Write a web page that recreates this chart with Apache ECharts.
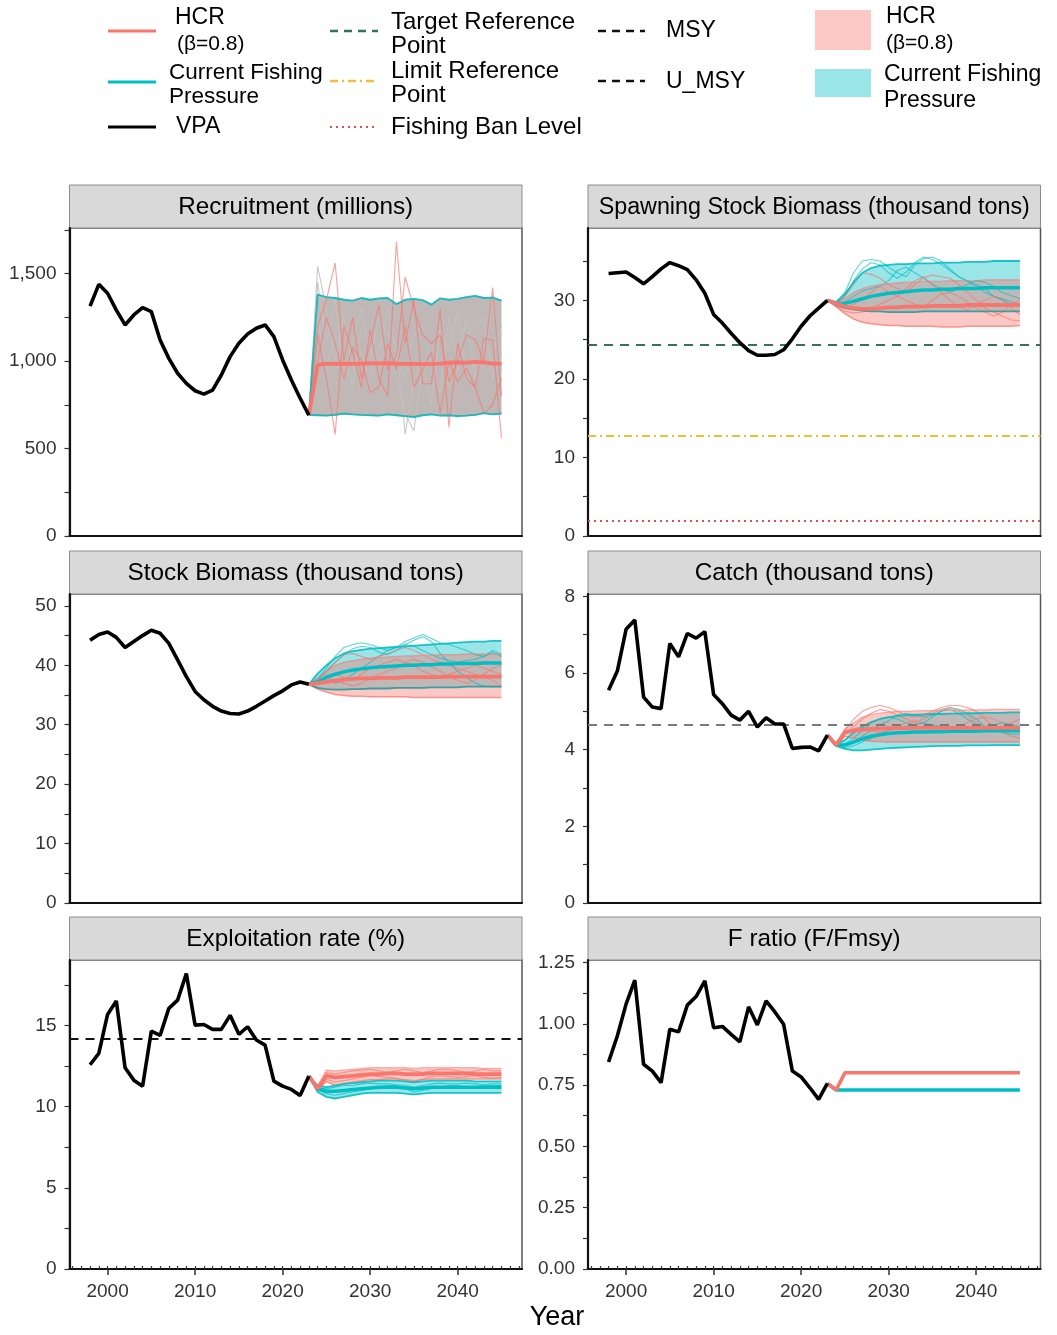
<!DOCTYPE html>
<html><head><meta charset="utf-8">
<script src="https://cdn.jsdelivr.net/npm/echarts@6/dist/echarts.min.js"></script>
<style>html,body{margin:0;padding:0;background:#fff}#c{width:1057px;height:1335px}</style>
</head><body><div id="c"></div><script>
// ---------------- DATA ----------------
const histYears = [1998,1999,2000,2001,2002,2003,2004,2005,2006,2007,2008,2009,2010,2011,2012,2013,2014,2015,2016,2017,2018,2019,2020,2021,2022,2023];
const projYears = [2023,2024,2025,2026,2027,2028,2029,2030,2031,2032,2033,2034,2035,2036,2037,2038,2039,2040,2041,2042,2043,2044,2045];
const xTickLabels = [2000,2010,2020,2030,2040];

// Recruitment (millions)
const recVPA = [1314,1438,1387,1291,1206,1263,1305,1282,1120,1015,930,872,830,811,834,920,1025,1101,1154,1187,1206,1139,1006,891,787,691];
const recHi = [691,1380,1365,1360,1350,1345,1360,1350,1358,1360,1325,1350,1355,1348,1322,1358,1350,1355,1365,1372,1360,1362,1345];
const recLo = [691,690,688,692,700,695,692,690,688,695,690,685,680,690,695,688,690,685,688,692,702,695,700];
const recMedHCR = [691,978,985,984,985,983,985,988,987,988,985,983,984,982,983,985,990,992,990,995,992,985,985];
const recTraceHCR1 = [691,1200,1350,1560,1000,1250,900,1100,1320,950,1030,1480,1300,1150,1100,1150,880,1000,1150,1120,1000,1420,800];
const recTraceHCR2 = [691,1150,900,580,1200,1050,850,1180,900,800,1680,1100,1350,870,870,1300,620,1100,900,850,700,750,900];
const recTraceHCR3 = [691,1000,1250,1100,900,1080,1000,820,850,1100,950,1200,850,950,1050,700,1000,880,960,850,1130,1120,560];
const recTraceCur1 = [691,1540,1300,1000,1250,950,1050,900,1100,1000,920,700,600,1000,930,1200,850,950,1250,900,1100,1050,1200];
const recTraceCur2 = [691,1450,1100,1350,900,1100,1300,1000,1250,1150,1100,580,900,1000,750,1180,1050,1300,880,1000,950,1380,950];
const recTraceCur3 = [691,1250,950,1150,1050,850,1200,1080,960,1300,1050,900,1150,1200,980,820,1250,1000,1150,1200,1250,900,1050];

// Spawning stock biomass (thousand tons)
const ssbVPA = [33.4,33.5,33.6,32.9,32.1,33.0,34.0,34.8,34.4,33.9,32.6,30.9,28.2,27.1,25.8,24.6,23.6,23.0,23.0,23.1,23.7,25.1,26.7,28.0,29.0,30.0];
const ssbCurHi = [30.0,29.8,30.8,32.3,33.5,34.1,34.4,34.5,34.6,34.6,34.7,34.7,34.7,34.8,34.8,34.8,34.9,34.9,34.9,35.0,35.0,35.0,35.0];
const ssbCurLo = [30.0,29.4,29.0,28.8,28.7,28.6,28.6,28.5,28.5,28.5,28.5,28.6,28.6,28.6,28.6,28.6,28.6,28.6,28.6,28.6,28.6,28.6,28.6];
const ssbHCRHi = [30.0,29.8,30.2,31.0,31.5,31.8,32.0,32.1,32.2,32.3,32.3,32.4,32.4,32.4,32.5,32.5,32.5,32.5,32.6,32.6,32.6,32.6,32.6];
const ssbHCRLo = [30.0,29.2,28.3,27.6,27.2,27.0,26.9,26.8,26.8,26.7,26.7,26.7,26.7,26.6,26.6,26.6,26.7,26.7,26.7,26.7,26.7,26.7,26.8];
const ssbCurMed = [30.0,29.6,29.6,29.9,30.2,30.5,30.7,30.9,31.0,31.1,31.2,31.3,31.3,31.4,31.4,31.5,31.5,31.5,31.6,31.6,31.6,31.6,31.6];
const ssbHCRMed = [30.0,29.6,29.2,29.0,28.9,28.9,29.0,29.1,29.1,29.2,29.2,29.2,29.3,29.3,29.3,29.3,29.4,29.4,29.4,29.4,29.4,29.4,29.4];
const ssbTraceCur1 = [30.0,29.6,31.0,33.5,35.0,35.2,35.0,34.2,33.5,33.0,34.5,35.3,35.5,35.0,34.0,33.0,32.5,32.0,31.5,30.5,30.0,29.5,29.5];
const ssbTraceCur2 = [30.0,29.5,30.5,32.5,34.0,34.8,34.5,33.5,32.8,33.6,34.8,35.5,35.2,34.6,33.8,33.0,32.4,31.8,31.0,30.5,30.2,29.8,29.4];
const ssbTraceCur3 = [30.0,29.4,29.8,30.5,31.2,31.5,31.8,32.5,33.8,34.2,33.5,32.8,32.0,31.5,31.0,31.5,32.0,32.5,32.3,31.8,31.0,30.6,30.2];
const ssbTraceHCR1 = [30.0,29.6,30.5,32.0,33.5,33.3,32.8,32.0,31.5,31.0,32.0,32.9,33.2,33.0,32.8,32.0,31.0,30.0,29.0,28.5,28.0,27.5,27.4];
const ssbTraceHCR2 = [30.0,29.3,29.0,29.5,30.2,31.0,31.8,31.0,30.5,31.5,32.5,33.0,32.0,31.0,30.0,29.2,28.8,29.5,30.0,30.5,30.0,29.0,28.2];
const ssbTraceHCR3 = [30.0,29.2,28.6,28.4,28.5,29.0,29.5,30.0,30.5,30.0,29.5,29.2,30.0,30.8,31.0,30.5,29.8,29.0,28.5,28.0,28.5,29.5,30.0];
const ssbTarget = 24.3, ssbLimit = 12.8, ssbBan = 2.0;

// Stock biomass (thousand tons)
const sbVPA = [44.2,45.2,45.6,44.7,43.0,44.0,45.0,45.9,45.4,43.7,40.9,38.1,35.6,34.2,33.1,32.3,31.9,31.8,32.3,33.1,34.0,34.9,35.7,36.7,37.2,36.8];
const sbCurHi = [36.8,38.6,40.0,41.2,42.0,42.4,42.6,42.8,42.9,43.0,43.1,43.2,43.3,43.4,43.5,43.6,43.7,43.8,43.9,44.0,44.0,44.1,44.1];
const sbCurLo = [36.8,36.2,36.0,35.9,35.9,36.0,36.0,36.1,36.1,36.1,36.2,36.2,36.2,36.2,36.3,36.3,36.3,36.3,36.4,36.4,36.4,36.4,36.4];
const sbHCRHi = [36.8,37.8,39.0,40.0,40.5,40.8,41.0,41.2,41.3,41.4,41.5,41.6,41.6,41.7,41.7,41.8,41.8,41.8,41.9,41.9,41.9,41.9,41.9];
const sbHCRLo = [36.8,36.0,35.5,35.1,34.9,34.8,34.8,34.7,34.7,34.7,34.7,34.7,34.6,34.6,34.6,34.6,34.6,34.6,34.6,34.6,34.6,34.6,34.6];
const sbCurMed = [36.8,37.2,38.0,38.5,38.9,39.2,39.4,39.6,39.7,39.8,39.9,40.0,40.0,40.1,40.1,40.2,40.2,40.3,40.3,40.3,40.4,40.4,40.4];
const sbHCRMed = [36.8,37.0,37.2,37.4,37.6,37.7,37.8,37.8,37.9,37.9,37.9,38.0,38.0,38.0,38.0,38.0,38.1,38.1,38.1,38.1,38.1,38.1,38.1];
const sbTraceCur1 = [36.8,37.8,39.5,41.5,43.0,43.5,43.8,43.5,43.0,42.5,43.0,44.0,44.6,45.2,44.5,43.8,43.5,43.0,42.5,41.8,41.5,42.5,41.8];
const sbTraceCur2 = [36.8,37.5,39.0,40.5,41.8,42.8,43.2,43.0,42.2,41.8,42.5,43.5,44.2,44.8,44.0,42.0,40.5,39.0,38.0,37.0,36.5,36.4,36.4];
const sbTraceCur3 = [36.8,37.2,38.2,37.0,37.5,38.5,39.5,40.5,41.5,42.5,43.0,43.5,43.2,42.5,41.8,41.2,40.8,40.5,40.8,41.0,41.5,42.2,41.5];
const sbTraceHCR1 = [36.8,37.5,39.0,40.5,41.8,42.0,41.5,41.0,41.5,42.0,42.5,43.0,42.5,41.8,41.0,40.5,40.0,39.5,39.0,38.5,38.0,37.5,36.5];
const sbTraceHCR2 = [36.8,37.0,37.5,38.5,38.0,37.5,38.5,39.5,40.0,40.5,41.0,40.5,40.0,39.0,38.5,38.0,38.5,39.0,39.5,40.0,39.5,39.0,38.5];
const sbTraceHCR3 = [36.8,36.8,37.2,37.5,37.0,36.5,37.0,37.8,38.5,39.0,39.5,40.5,41.0,40.5,39.8,39.0,38.0,37.5,37.0,37.5,38.5,39.5,40.0];

// Catch (thousand tons)
const catchVPA = [5.55,6.05,7.14,7.38,5.37,5.11,5.07,6.77,6.42,7.03,6.91,7.08,5.44,5.20,4.90,4.77,5.00,4.59,4.83,4.67,4.67,4.03,4.06,4.07,3.97,4.38];
const catchHCRHi = [4.38,4.15,4.55,4.70,4.85,4.92,4.95,4.98,5.00,5.00,5.01,5.02,5.02,5.03,5.03,5.03,5.04,5.04,5.04,5.05,5.05,5.05,5.05];
const catchHCRLo = [4.38,4.10,4.35,4.30,4.25,4.22,4.21,4.20,4.20,4.20,4.20,4.20,4.20,4.20,4.20,4.20,4.20,4.20,4.20,4.20,4.20,4.20,4.20];
const catchHCRMed = [4.38,4.12,4.45,4.50,4.52,4.54,4.55,4.56,4.56,4.56,4.57,4.57,4.57,4.57,4.57,4.57,4.57,4.57,4.57,4.57,4.57,4.57,4.57];
const catchCurHi = [4.38,4.14,4.25,4.45,4.60,4.72,4.80,4.85,4.88,4.90,4.91,4.92,4.93,4.93,4.94,4.94,4.95,4.95,4.96,4.96,4.96,4.97,4.97];
const catchCurLo = [4.38,4.10,4.02,3.98,3.98,4.00,4.02,4.04,4.05,4.06,4.07,4.08,4.09,4.10,4.10,4.10,4.11,4.11,4.11,4.12,4.12,4.12,4.12];
const catchCurMed = [4.38,4.12,4.12,4.20,4.28,4.35,4.39,4.42,4.44,4.45,4.46,4.46,4.47,4.47,4.48,4.48,4.48,4.48,4.49,4.49,4.49,4.49,4.49];
const catchTraceHCR1 = [4.38,4.15,4.50,4.80,5.00,5.10,5.15,5.10,5.00,4.90,4.85,4.90,5.00,5.10,5.15,5.15,5.10,5.00,4.80,4.60,4.45,4.35,4.30];
const catchTraceHCR2 = [4.38,4.13,4.45,4.60,4.80,4.95,5.05,5.00,4.90,4.80,4.70,4.80,4.95,5.05,5.10,5.00,4.90,4.70,4.55,4.50,4.60,4.70,4.80];
const catchTraceHCR3 = [4.38,4.12,4.40,4.55,4.60,4.50,4.45,4.50,4.60,4.70,4.75,4.70,4.60,4.55,4.50,4.60,4.70,4.80,4.85,4.80,4.70,4.60,4.50];
const catchTraceCur1 = [4.38,4.12,4.15,4.30,4.50,4.70,4.80,4.85,4.80,4.70,4.65,4.70,4.85,5.00,5.10,5.05,4.95,4.80,4.60,4.50,4.45,4.40,4.40];
const catchTraceCur2 = [4.38,4.11,4.10,4.20,4.35,4.50,4.65,4.75,4.90,4.95,4.90,4.85,4.90,5.00,5.05,4.95,4.80,4.65,4.55,4.50,4.50,4.55,4.60];
const catchTraceCur3 = [4.38,4.10,4.05,4.10,4.20,4.30,4.40,4.50,4.55,4.60,4.65,4.70,4.65,4.60,4.55,4.50,4.50,4.55,4.60,4.65,4.70,4.65,4.60];
const catchMSY = 4.66;

// Exploitation rate (%)
const exVPA = [12.58,13.28,15.68,16.5,12.39,11.63,11.26,14.65,14.39,16.05,16.56,18.19,15.02,15.06,14.76,14.76,15.62,14.45,14.92,14.1,13.79,11.57,11.26,11.06,10.69,11.88];
const exHCRHi = [11.88,11.3,12.25,12.2,12.25,12.3,12.35,12.4,12.4,12.4,12.4,12.4,12.35,12.4,12.4,12.4,12.4,12.4,12.4,12.4,12.35,12.35,12.35];
const exHCRLo = [11.88,11.0,11.55,11.3,11.4,11.5,11.6,11.65,11.65,11.7,11.7,11.65,11.6,11.65,11.7,11.7,11.7,11.7,11.7,11.7,11.7,11.7,11.7];
const exHCRMed = [11.88,11.1,11.9,11.8,11.85,11.9,11.95,12.0,12.0,12.05,12.05,12.0,12.0,12.0,12.05,12.05,12.05,12.05,12.05,12.0,12.0,12.0,12.0];
const exCurHi = [11.88,11.3,11.2,11.3,11.4,11.45,11.5,11.55,11.6,11.6,11.6,11.55,11.5,11.55,11.6,11.6,11.6,11.6,11.6,11.55,11.55,11.55,11.55];
const exCurLo = [11.88,10.9,10.6,10.5,10.6,10.7,10.8,10.85,10.85,10.85,10.85,10.8,10.75,10.8,10.85,10.85,10.85,10.85,10.85,10.85,10.85,10.85,10.85];
const exCurMed = [11.88,11.1,10.95,10.95,11.0,11.05,11.1,11.15,11.2,11.2,11.2,11.15,11.1,11.15,11.2,11.2,11.2,11.2,11.2,11.2,11.2,11.2,11.2];
const exTraceHCR1 = [11.88,11.1,12.1,12.0,12.1,12.2,12.25,12.3,12.2,12.1,12.2,12.3,12.2,12.1,12.2,12.3,12.3,12.2,12.1,12.2,12.3,12.2,12.2];
const exTraceHCR2 = [11.88,11.05,11.7,11.5,11.6,11.7,11.8,11.9,11.85,11.8,11.75,11.6,11.5,11.7,11.85,11.9,11.85,11.8,11.85,11.9,11.8,11.75,11.8];
const exTraceCur1 = [11.88,11.05,10.8,10.7,10.8,10.9,11.0,11.1,11.2,11.3,11.3,11.1,10.9,11.0,11.1,11.2,11.3,11.3,11.2,11.2,11.3,11.3,11.3];
const exTraceCur2 = [11.88,11.15,11.1,11.2,11.3,11.3,11.4,11.45,11.4,11.4,11.35,11.3,11.2,11.3,11.4,11.45,11.4,11.4,11.45,11.4,11.35,11.4,11.4];
const exUMSY = 14.18;

// F ratio (F/Fmsy)
const fVPA = [0.844,0.95,1.08,1.178,0.835,0.807,0.76,0.978,0.967,1.076,1.111,1.175,0.984,0.989,0.957,0.926,1.069,0.995,1.093,1.048,0.998,0.807,0.783,0.739,0.692,0.757];
const fHCR = [0.757,0.73,0.80,0.80,0.80,0.80,0.80,0.80,0.80,0.80,0.80,0.80,0.80,0.80,0.80,0.80,0.80,0.80,0.80,0.80,0.80,0.80,0.80];
const fCur = [0.757,0.73,0.73,0.73,0.73,0.73,0.73,0.73,0.73,0.73,0.73,0.73,0.73,0.73,0.73,0.73,0.73,0.73,0.73,0.73,0.73,0.73,0.73];

// ---------------- STYLE / LAYOUT ----------------
const FONT = '"Liberation Sans", Arial, Helvetica, sans-serif';
const RED = '#F8766D', TEAL = '#00BFC4';
const RED_FILL = 'rgba(248,118,109,0.4)', TEAL_FILL = 'rgba(0,191,196,0.4)';
const X_MIN = 1995.65, X_MAX = 2047.35;
const COL_X = [69.5, 588], PW = 452.5;
const ROW_TOP = [228, 594, 960], PH = [308, 309, 309], STRIP_H = 43;
const TICK_FS = 19;

const panels = [
  {title:'Recruitment (millions)', tfs:24.3, col:0, row:0, ymax:1760, majors:[0,500,1000,1500], minors:[250,750,1250,1750], fmt:v=>v.toLocaleString('en-US')},
  {title:'Spawning Stock Biomass (thousand tons)', tfs:23.3, col:1, row:0, ymax:39.2, majors:[0,10,20,30], minors:[5,15,25,35], fmt:v=>String(v)},
  {title:'Stock Biomass (thousand tons)', tfs:24.3, col:0, row:1, ymax:52, majors:[0,10,20,30,40,50], minors:[5,15,25,35,45], fmt:v=>String(v)},
  {title:'Catch (thousand tons)', tfs:24.3, col:1, row:1, ymax:8.06, majors:[0,2,4,6,8], minors:[1,3,5,7], fmt:v=>String(v)},
  {title:'Exploitation rate (%)', tfs:24.3, col:0, row:2, ymax:19.03, majors:[0,5,10,15], minors:[2.5,7.5,12.5,17.5], fmt:v=>String(v)},
  {title:'F ratio (F/Fmsy)', tfs:24.3, col:1, row:2, ymax:1.26, majors:[0,0.25,0.5,0.75,1,1.25], minors:[0.125,0.375,0.625,0.875,1.125], fmt:v=>v.toFixed(2)}
];

const minorYears = [];
for (let y = 1996; y <= 2047; y++) minorYears.push(y);

const grids = [], xAxes = [], yAxes = [], graphics = [];
panels.forEach((p, i) => {
  const left = COL_X[p.col], top = ROW_TOP[p.row], h = PH[p.row];
  grids.push({left, top, width: PW, height: h, show: true, borderColor: '#555', borderWidth: 1.5, backgroundColor: '#fff', containLabel: false, outerBoundsMode: 'none'});
  const bottom = p.row === 2;
  xAxes.push({type:'value', gridIndex:i, min:X_MIN, max:X_MAX, splitLine:{show:false},
    axisLine:{show:true, onZero:false, lineStyle:{color:'#111', width:2.2}},
    axisTick:{show:bottom, customValues:xTickLabels, length:6, lineStyle:{color:'#333', width:1.5}},
    axisLabel:{show:bottom, customValues:xTickLabels, margin:13, fontSize:TICK_FS, fontFamily:FONT, color:'#333', formatter:v=>String(v)}});
  yAxes.push({type:'value', gridIndex:i, min:0, max:p.ymax, splitLine:{show:false},
    axisLine:{show:true, onZero:false, lineStyle:{color:'#111', width:2.2}},
    axisTick:{show:true, customValues:p.majors.concat(p.minors), length:5, lineStyle:{color:'#333', width:1.2}},
    axisLabel:{customValues:p.majors, margin:13, fontSize:TICK_FS, fontFamily:FONT, color:'#333', formatter:p.fmt}});
  // strip
  graphics.push({type:'rect', silent:true, shape:{x:left, y:top-STRIP_H, width:PW, height:STRIP_H}, style:{fill:'#d9d9d9', stroke:'#8c8c8c', lineWidth:1}});
  graphics.push({type:'text', silent:true, x:left+PW/2, y:top-STRIP_H/2+1, style:{text:p.title, fontSize:p.tfs, fontFamily:FONT, fill:'#000', align:'center', verticalAlign:'middle'}});
});
// minor year ticks on bottom row
[4,5].forEach(gi => {
  xAxes.push({type:'value', gridIndex:gi, min:X_MIN, max:X_MAX, splitLine:{show:false},
    axisLine:{show:false}, axisLabel:{show:false},
    axisTick:{show:true, customValues:minorYears, length:3, lineStyle:{color:'#333', width:1.2}}});
});

// ---------------- SERIES HELPERS ----------------
const pairs = (xs, ys) => xs.map((x, k) => [x, ys[k]]);
function line(gi, xs, ys, color, width, opacity, z) {
  return {type:'line', xAxisIndex:gi, yAxisIndex:gi, data:pairs(xs, ys), symbol:'none', silent:true,
    lineStyle:{color, width, opacity:opacity == null ? 1 : opacity}, z:z || 2};
}
function band(gi, lo, hi, fill) {
  return {type:'custom', xAxisIndex:gi, yAxisIndex:gi, silent:true, clip:true, z:1,
    data: projYears.map((x, k) => [x, lo[k], hi[k]]), encode:{x:0, y:[1,2]},
    renderItem: (params, api) => {
      if (params.dataIndex !== 0) return;
      const pts = [];
      for (let k = 0; k < projYears.length; k++) pts.push(api.coord([projYears[k], hi[k]]));
      for (let k = projYears.length - 1; k >= 0; k--) pts.push(api.coord([projYears[k], lo[k]]));
      return {type:'polygon', shape:{points:pts}, style:{fill, stroke:null}};
    }};
}
function hline(gi, v, color, width, dash) {
  return {type:'line', xAxisIndex:gi, yAxisIndex:gi, data:[], silent:true, z:6,
    markLine:{symbol:'none', silent:true, animation:false, label:{show:false},
      lineStyle:{color, width, type:dash, opacity:1}, data:[{yAxis:v}]}};
}
function panelSeries(gi, o) {
  const s = [];
  s.push(band(gi, o.curLo, o.curHi, TEAL_FILL));
  s.push(band(gi, o.hcrLo, o.hcrHi, RED_FILL));
  (o.curTraces || []).forEach(t => s.push(line(gi, projYears, t, o.curTraceColor || TEAL, 1.1, o.curTraceOpacity || 0.65, 2)));
  (o.hcrTraces || []).forEach(t => s.push(line(gi, projYears, t, RED, 1.1, 0.7, 2)));
  s.push(line(gi, projYears, o.hcrHi, RED, 1.3, 0.55, 3));
  s.push(line(gi, projYears, o.hcrLo, RED, 1.5, 0.75, 3));
  s.push(line(gi, projYears, o.curHi, TEAL, 1.8, 0.9, 3));
  s.push(line(gi, projYears, o.curLo, o.curLoColor || TEAL, 1.8, 0.9, 3));
  if (o.curMed) s.push(line(gi, projYears, o.curMed, TEAL, 3.5, 1, 4));
  if (o.hcrMed) s.push(line(gi, projYears, o.hcrMed, RED, 3.8, 1, 4));
  s.push(line(gi, histYears, o.vpa, '#000', 3.6, 1, 5));
  return s;
}

let series = [];
series = series.concat(panelSeries(0, {curLo:recLo, curHi:recHi, hcrLo:recLo, hcrHi:recHi, hcrMed:recMedHCR, vpa:recVPA,
  curTraces:[recTraceCur1, recTraceCur2, recTraceCur3], curTraceColor:'#c4c0c0', curTraceOpacity:0.9,
  hcrTraces:[recTraceHCR1, recTraceHCR2, recTraceHCR3]}));
series = series.concat(panelSeries(1, {curLo:ssbCurLo, curHi:ssbCurHi, hcrLo:ssbHCRLo, hcrHi:ssbHCRHi, curMed:ssbCurMed, hcrMed:ssbHCRMed, vpa:ssbVPA,
  curLoColor:'#2a9a9c',
  curTraces:[ssbTraceCur1, ssbTraceCur2, ssbTraceCur3], hcrTraces:[ssbTraceHCR1, ssbTraceHCR2, ssbTraceHCR3]}));
series.push(hline(1, ssbTarget, '#2F7454', 2.2, [9,7]));
series.push(hline(1, ssbLimit, '#F2BE3A', 2.2, [8,4,2,4]));
series.push(hline(1, ssbBan, '#E0504A', 2, [2,4]));
series = series.concat(panelSeries(2, {curLo:sbCurLo, curHi:sbCurHi, hcrLo:sbHCRLo, hcrHi:sbHCRHi, curMed:sbCurMed, hcrMed:sbHCRMed, vpa:sbVPA,
  curLoColor:'#2a9a9c',
  curTraces:[sbTraceCur1, sbTraceCur2, sbTraceCur3], hcrTraces:[sbTraceHCR1, sbTraceHCR2, sbTraceHCR3]}));
series = series.concat(panelSeries(3, {curLo:catchCurLo, curHi:catchCurHi, hcrLo:catchHCRLo, hcrHi:catchHCRHi, curMed:catchCurMed, hcrMed:catchHCRMed, vpa:catchVPA,
  curTraces:[catchTraceCur1, catchTraceCur2, catchTraceCur3], hcrTraces:[catchTraceHCR1, catchTraceHCR2, catchTraceHCR3]}));
series.push(hline(3, catchMSY, '#7a7a7a', 2.2, [9,7]));
series = series.concat(panelSeries(4, {curLo:exCurLo, curHi:exCurHi, hcrLo:exHCRLo, hcrHi:exHCRHi, curMed:exCurMed, hcrMed:exHCRMed, vpa:exVPA,
  curTraces:[exTraceCur1, exTraceCur2], hcrTraces:[exTraceHCR1, exTraceHCR2]}));
series.push(hline(4, exUMSY, '#111', 2.2, [9,7]));
series.push(line(5, projYears, fCur, TEAL, 3.6, 1, 4));
series.push(line(5, projYears, fHCR, RED, 3.6, 1, 4));
series.push(line(5, histYears, fVPA, '#000', 3.6, 1, 5));

// ---------------- LEGEND & TITLES (graphic) ----------------
function txt(x, y, s, size) {
  return {type:'text', silent:true, x, y, style:{text:s, fontSize:size, fontFamily:FONT, fill:'#000', align:'left', verticalAlign:'middle'}};
}
function seg(x1, y1, x2, y2, color, w, dash) {
  return {type:'line', silent:true, shape:{x1, y1, x2, y2}, style:{stroke:color, lineWidth:w, lineDash:dash || null}};
}
const LFS = 23;
graphics.push(
  seg(108,31,156,31,RED,3), txt(175,18,'HCR',LFS), txt(177,44,'(β=0.8)',21),
  seg(108,82,156,82,TEAL,3), txt(169,73,'Current Fishing',22.5), txt(169,97,'Pressure',22.5),
  seg(108,127,156,127,'#000',3), txt(176,127,'VPA',LFS),
  seg(330,31,378,31,'#2F7454',2.5,[8,6]), txt(391,22,'Target Reference',24), txt(391,46,'Point',24),
  seg(330,81,378,81,'#F2BE3A',2.5,[8,4,2,4]), txt(391,71,'Limit Reference',24), txt(391,95,'Point',24),
  seg(330,127,378,127,'#E0504A',2,[2,4]), txt(391,127,'Fishing Ban Level',24),
  seg(598,31,645,31,'#111',2.5,[8,6]), txt(666,31,'MSY',LFS),
  seg(598,81,645,81,'#111',2.5,[8,6]), txt(666,82,'U_MSY',LFS),
  {type:'rect', silent:true, shape:{x:815, y:10, width:56, height:40}, style:{fill:RED_FILL}},
  txt(886,17,'HCR',LFS), txt(886,43,'(β=0.8)',21),
  {type:'rect', silent:true, shape:{x:815, y:69, width:56, height:28}, style:{fill:TEAL_FILL}},
  txt(884,75,'Current Fishing',LFS), txt(884,101,'Pressure',LFS),
  {type:'text', silent:true, x:557, y:1318, style:{text:'Year', fontSize:27, fontFamily:FONT, fill:'#000', align:'center', verticalAlign:'middle'}}
);

const chart = echarts.init(document.getElementById('c'), null, {renderer:'canvas'});
chart.setOption({
  animation:false, backgroundColor:'#fff',
  textStyle:{fontFamily:FONT},
  grid:grids, xAxis:xAxes, yAxis:yAxes, series, graphic:graphics
});
</script></body></html>
